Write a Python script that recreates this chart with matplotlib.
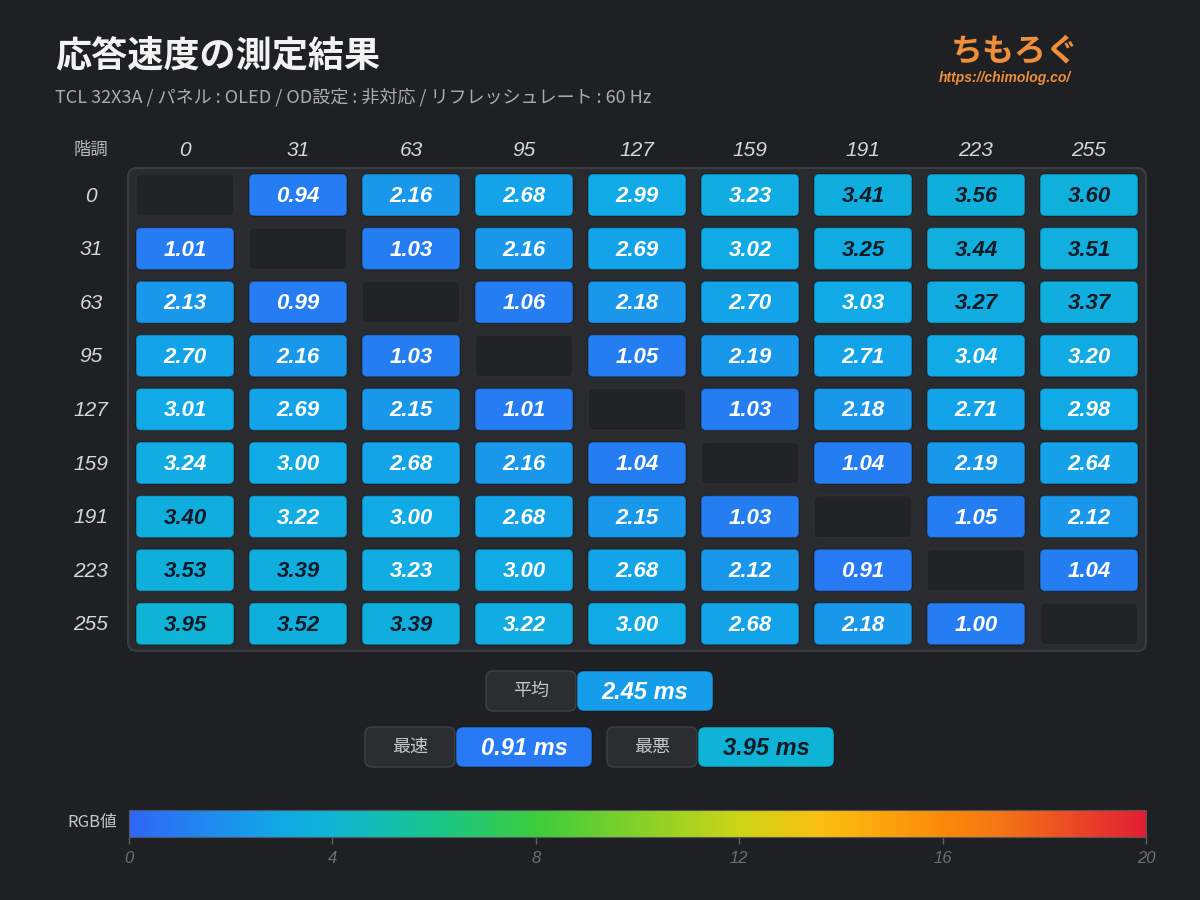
import numpy as np
import matplotlib
matplotlib.use("Agg")
import matplotlib.pyplot as plt
from matplotlib.patches import FancyBboxPatch
from matplotlib.colors import LinearSegmentedColormap, Normalize
from matplotlib.cm import ScalarMappable

plt.rcParams["font.family"] = ["Noto Sans CJK JP", "DejaVu Sans"]

# data
LEVELS = [0, 31, 63, 95, 127, 159, 191, 223, 255]
ROW_0 = [np.nan, 0.94, 2.16, 2.68, 2.99, 3.23, 3.41, 3.56, 3.60]
ROW_31 = [1.01, np.nan, 1.03, 2.16, 2.69, 3.02, 3.25, 3.44, 3.51]
ROW_63 = [2.13, 0.99, np.nan, 1.06, 2.18, 2.70, 3.03, 3.27, 3.37]
ROW_95 = [2.70, 2.16, 1.03, np.nan, 1.05, 2.19, 2.71, 3.04, 3.20]
ROW_127 = [3.01, 2.69, 2.15, 1.01, np.nan, 1.03, 2.18, 2.71, 2.98]
ROW_159 = [3.24, 3.00, 2.68, 2.16, 1.04, np.nan, 1.04, 2.19, 2.64]
ROW_191 = [3.40, 3.22, 3.00, 2.68, 2.15, 1.03, np.nan, 1.05, 2.12]
ROW_223 = [3.53, 3.39, 3.23, 3.00, 2.68, 2.12, 0.91, np.nan, 1.04]
ROW_255 = [3.95, 3.52, 3.39, 3.22, 3.00, 2.68, 2.18, 1.00, np.nan]
VALUES = np.array([ROW_0, ROW_31, ROW_63, ROW_95, ROW_127,
                   ROW_159, ROW_191, ROW_223, ROW_255])

STAT_AVG = 2.45
STAT_BEST = 0.91
STAT_WORST = 3.95
CBAR_TICKS = [0, 4, 8, 12, 16, 20]

TITLE = "応答速度の測定結果"
SUBTITLE = "TCL 32X3A / パネル : OLED / OD設定 : 非対応 / リフレッシュレート : 60 Hz"

BG = "#1f2023"
NUM_FONT = ["Liberation Sans", "DejaVu Sans"]

cmap = LinearSegmentedColormap.from_list("rt", [
    (0.00, "#3066f8"),
    (0.10, "#1a94ec"),
    (0.15, "#10aae6"),
    (0.20, "#0fb4d4"),
    (0.30, "#18c68c"),
    (0.40, "#3ccc3c"),
    (0.60, "#ccd416"),
    (0.68, "#fcc010"),
    (0.80, "#fb8a08"),
    (0.85, "#f57a12"),
    (1.00, "#e21e34"),
])
norm = Normalize(0, 20)


def rbox(ax, x0, y0, w, h, fc, ec, r=5, lw=1.0, z=2):
    ax.add_patch(FancyBboxPatch((x0, y0), w, h,
                                boxstyle=f"round,pad=0,rounding_size={r}",
                                facecolor=fc, edgecolor=ec, lw=lw, zorder=z))


fig = plt.figure(figsize=(12, 9), dpi=100)
fig.patch.set_facecolor(BG)
ax = fig.add_axes([0, 0, 1, 1])
ax.set_xlim(0, 1200)
ax.set_ylim(900, 0)
ax.axis("off")

ax.text(55, 56, TITLE, fontsize=26, fontweight="bold", color="#f2f2f2",
        ha="left", va="center")
ax.text(55, 97, SUBTITLE, fontsize=13, color="#a9acb1", ha="left", va="center")

# logo text
ax.text(1015, 52, "ちもろぐ", fontsize=23, fontweight="bold", color="#ef8f3a",
        ha="center", va="center")
ax.text(1005, 78, "https://chimolog.co/", fontsize=10, fontweight="bold",
        style="italic", color="#ef8f3a", ha="center", va="center",
        family=["Liberation Sans", "DejaVu Sans"])

# grid
col_x0, col_dx = 185, 113
row_y0, row_dy = 195, 53.6
cw, ch = 98, 42

rbox(ax, 128, 168, 1018, 483, "#2a2b2f", "#3b3c41", r=9, lw=1.5, z=1)
ax.text(91, 150, "階調", fontsize=12.5, color="#b9bbbf", ha="center", va="center")

for j, lv in enumerate(LEVELS):
    ax.text(col_x0 + col_dx * j, 151, str(lv), fontsize=15, style="italic",
            color="#d6d7da", ha="center", va="center", family=NUM_FONT)
for i, lv in enumerate(LEVELS):
    ax.text(91, row_y0 + row_dy * i + 1, str(lv), fontsize=15, style="italic",
            color="#d6d7da", ha="center", va="center", family=NUM_FONT)

for i in range(len(LEVELS)):
    for j in range(len(LEVELS)):
        cx = col_x0 + col_dx * j
        cy = row_y0 + row_dy * i
        v = VALUES[i, j]
        if np.isnan(v):
            rbox(ax, cx - cw / 2, cy - ch / 2, cw, ch, "#222326", "#2e2f33")
            continue
        rbox(ax, cx - cw / 2, cy - ch / 2, cw, ch, cmap(norm(v)), (0, 0, 0, 0.3))
        tc = "#0e1a26" if v >= 3.245 else "white"
        ax.text(cx, cy + 1.5, f"{v:.2f}", fontsize=16, fontweight="bold", style="italic",
                color=tc, ha="center", va="center", family=NUM_FONT, zorder=3)


# summary boxes
def stat(ax, lx, y, label, value):
    rbox(ax, lx, y, 90, 40, "#2b2d31", "#3e4045", r=7)
    ax.text(lx + 45, y + 20, label, fontsize=13, color="#c4c6ca",
            ha="center", va="center")
    rbox(ax, lx + 91, y, 136, 40, cmap(norm(value)), (0, 0, 0, 0.3), r=7)
    tc = "#0e1a26" if value >= 3.245 else "white"
    ax.text(lx + 91 + 68, y + 21.5, f"{value:.2f} ms", fontsize=17, fontweight="bold",
            style="italic", color=tc, ha="center", va="center", family=NUM_FONT, zorder=3)


stat(ax, 486, 671, "平均", STAT_AVG)
stat(ax, 365, 727, "最速", STAT_BEST)
stat(ax, 607, 727, "最悪", STAT_WORST)

# colour bar
cax = fig.add_axes([129 / 1200, 1 - 837 / 900, 1017 / 1200, 27 / 900])
cb = fig.colorbar(ScalarMappable(norm=norm, cmap=cmap), cax=cax, orientation="horizontal")
cb.set_ticks(CBAR_TICKS)
cb.outline.set_edgecolor("#55575c")
cax.tick_params(colors="#5c5f64", length=5, width=1, labelsize=12, pad=5)
for t in cax.get_xticklabels():
    t.set_fontstyle("italic")
    t.set_family(NUM_FONT)
    t.set_color("#6b6e73")
ax.text(117, 823, "RGB値", fontsize=12, color="#c4c6ca", ha="right", va="center")

fig.savefig("out.png", dpi=100, facecolor=BG)
